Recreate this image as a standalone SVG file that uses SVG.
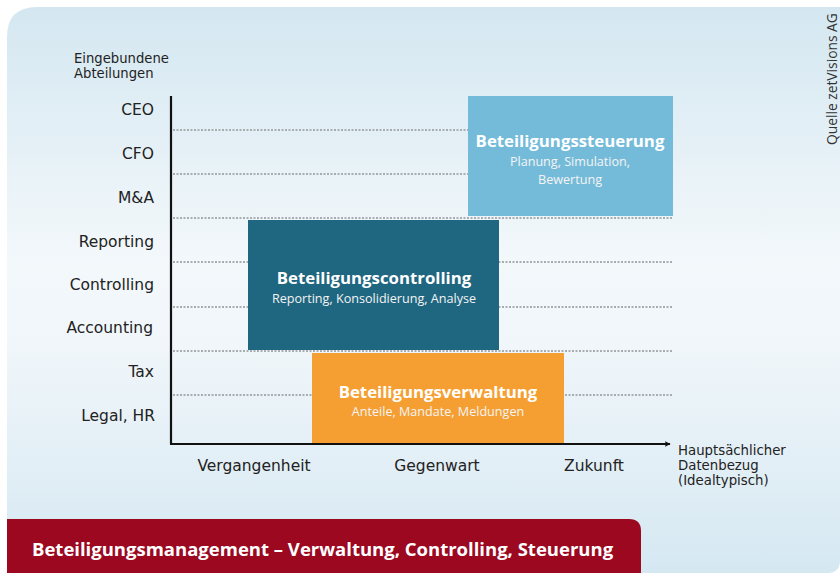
<svg xmlns="http://www.w3.org/2000/svg" width="840" height="573" viewBox="0 0 840 573">
  <defs>
    <linearGradient id="panelGrad" x1="0" y1="0" x2="0" y2="1">
      <stop offset="0" stop-color="#d4e7f1"/>
      <stop offset="0.45" stop-color="#f3f8fb"/>
      <stop offset="0.6" stop-color="#f0f6fa"/>
      <stop offset="1" stop-color="#d5e8f2"/>
    </linearGradient>
    <marker id="arrow" viewBox="0 0 10 10" refX="9" refY="5" markerWidth="6" markerHeight="6" markerUnits="userSpaceOnUse" orient="auto">
      <path d="M0,0 L10,5 L0,10 L2.5,5 Z" fill="#111"/>
    </marker>
    <style>
      .lbl { font-family: "DejaVu Sans", "Liberation Sans", sans-serif; font-size: 15.5px; fill: #222; }
      .cap { font-family: "DejaVu Sans", "Liberation Sans", sans-serif; font-size: 13.2px; fill: #222; }
      .row { text-anchor: end; }
      .xl { text-anchor: middle; }
      .small { font-family: "DejaVu Sans", "Liberation Sans", sans-serif; font-size: 13.3px; fill: #222; }
      .grid { stroke: #a8adb2; stroke-width: 2; stroke-dasharray: 2 1.5; fill: none; }
      .title { font-family: "Open Sans", "Liberation Sans", sans-serif; font-weight: bold; font-size: 16.8px; fill: #fff; text-anchor: middle; }
      .sub { font-family: "Open Sans", "Liberation Sans", sans-serif; font-size: 12.6px; fill: #f4f4f4; text-anchor: middle; }
      .axis { stroke: #111; stroke-width: 2.2; fill: none; }
    </style>
  </defs>

  <!-- background panel -->
  <rect x="0" y="0" width="840" height="573" fill="#ffffff"/>
  <path d="M7,573 L7,37 Q7,7 37,7 L840,7 L840,560 Q840,573 827,573 Z" fill="url(#panelGrad)"/>

  <!-- source note -->
  <text transform="translate(837,145) rotate(-90)" font-family="Open Sans, Liberation Sans, sans-serif" font-size="13.8" fill="#333">Quelle zetVisions AG</text>

  <!-- axis caption -->
  <text class="cap" x="74" y="63">Eingebundene</text>
  <text class="cap" x="74" y="78">Abteilungen</text>

  <!-- grid lines -->
  <g id="grid">
    <line class="grid" x1="173" y1="130" x2="673" y2="130"/>
    <line class="grid" x1="173" y1="174" x2="673" y2="174"/>
    <line class="grid" x1="173" y1="218" x2="673" y2="218"/>
    <line class="grid" x1="173" y1="262" x2="673" y2="262"/>
    <line class="grid" x1="173" y1="307" x2="673" y2="307"/>
    <line class="grid" x1="173" y1="351" x2="673" y2="351"/>
    <line class="grid" x1="173" y1="395" x2="673" y2="395"/>
  </g>

  <!-- row labels -->
  <g id="rows">
    <text class="lbl row" x="154" y="115">CEO</text>
    <text class="lbl row" x="154" y="159">CFO</text>
    <text class="lbl row" x="154" y="203">M&amp;A</text>
    <text class="lbl row" x="154" y="247">Reporting</text>
    <text class="lbl row" x="154" y="290">Controlling</text>
    <text class="lbl row" x="153" y="333">Accounting</text>
    <text class="lbl row" x="154" y="377">Tax</text>
    <text class="lbl row" x="155" y="421">Legal, HR</text>
  </g>

  <!-- blocks -->
  <g id="steuerung">
    <rect x="468" y="96" width="205" height="120" fill="#74bbd9"/>
    <text class="title" x="570" y="147">Beteiligungssteuerung</text>
    <text class="sub" x="570" y="166">Planung, Simulation,</text>
    <text class="sub" x="570" y="184">Bewertung</text>
  </g>

  <g id="controlling">
    <rect x="248" y="220" width="251" height="130" fill="#1f6680"/>
    <text class="title" x="374" y="284">Beteiligungscontrolling</text>
    <text class="sub" x="374" y="303">Reporting, Konsolidierung, Analyse</text>
  </g>

  <g id="verwaltung">
    <rect x="312" y="353" width="252" height="90" fill="#f59f33"/>
    <text class="title" x="438" y="398">Beteiligungsverwaltung</text>
    <text class="sub" x="438" y="416">Anteile, Mandate, Meldungen</text>
  </g>

  <!-- axes -->
  <g id="connectors">
    <line class="axis" x1="171" y1="96" x2="171" y2="444"/>
    <line class="axis" x1="170" y1="444" x2="670" y2="444" marker-end="url(#arrow)"/>
  </g>

  <!-- x labels -->
  <g id="xlabels">
    <text class="lbl xl" x="254" y="471">Vergangenheit</text>
    <text class="lbl xl" x="437" y="471">Gegenwart</text>
    <text class="lbl xl" x="594" y="471">Zukunft</text>
    <text class="small" x="678" y="455">Hauptsächlicher</text>
    <text class="small" x="678" y="470">Datenbezug</text>
    <text class="small" x="678" y="485">(Idealtypisch)</text>
  </g>

  <!-- footer bar -->
  <g id="footer">
    <path d="M7,573 L7,519 L629,519 Q641,519 641,531 L641,573 Z" fill="#9b0820"/>
    <text x="32" y="556" font-family="Open Sans, Liberation Sans, sans-serif" font-weight="bold" font-size="18.5" fill="#fff">Beteiligungsmanagement – Verwaltung, Controlling, Steuerung</text>
  </g>
</svg>
